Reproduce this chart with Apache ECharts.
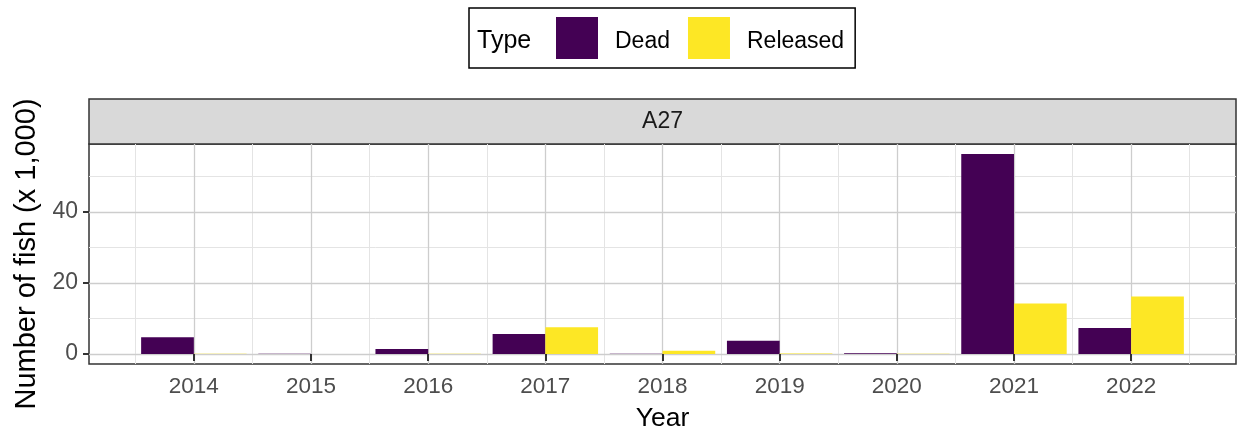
<!DOCTYPE html>
<html>
<head>
<meta charset="utf-8">
<script src="https://cdn.jsdelivr.net/npm/echarts@6/dist/echarts.min.js"></script>
<style>
  html, body { margin: 0; padding: 0; background: #ffffff; }
  #chart { width: 1248px; height: 437px; }
</style>
</head>
<body>
<div id="chart"></div>
<script>
// Fish counts (x 1,000) by year for site A27
const years = [2014, 2015, 2016, 2017, 2018, 2019, 2020, 2021, 2022];
const dead = [4.7, 0.1, 1.4, 5.6, 0.1, 3.7, 0.2, 56.3, 7.3];
const released = [0.1, 0, 0.1, 7.5, 0.9, 0.15, 0.1, 14.2, 16.2];
const yTickValues = [0, 20, 40];
const yMinorValues = [10, 30, 50];
const typeNames = ['Dead', 'Released'];
const panelName = 'A27';

const FONT = "'Liberation Sans', Arial, Helvetica, sans-serif";
const DEAD_COLOR = '#440154';
const RELEASED_COLOR = '#FDE725';

// continuous year scale: bar extent (width 0.9) plus 5% padding
const halfDodge = 0.45;
const xLo = years[0] - halfDodge, xHi = years[years.length - 1] + halfDodge;
const xPad = 0.05 * (xHi - xLo);
const yMaxData = Math.max(...dead, ...released);
const yPad = 0.05 * yMaxData;

const xMinorValues = years.map(y => y - 0.5).concat([years[years.length - 1] + 0.5]);

const stripTop = 99;
const gridLeft = 89, gridTop = 144, gridWidth = 1147, gridHeight = 223;

const majorStyle = { color: '#cdcdcd', width: 1.3, type: 'solid' };
const minorStyle = { color: '#e4e4e4', width: 1, type: 'solid' };

const gridLines = []
  .concat(xMinorValues.map(v => ({ xAxis: v, lineStyle: minorStyle })))
  .concat(yMinorValues.map(v => ({ yAxis: v, lineStyle: minorStyle })))
  .concat(years.map(v => ({ xAxis: v, lineStyle: majorStyle })))
  .concat(yTickValues.map(v => ({ yAxis: v, lineStyle: majorStyle })));

const chart = echarts.init(document.getElementById('chart'), null, { renderer: 'canvas' });

chart.setOption({
  animation: false,
  backgroundColor: '#ffffff',
  textStyle: { fontFamily: FONT },
  title: [
    {
      text: 'Type',
      left: 477, top: 26, padding: 0,
      textStyle: { fontFamily: FONT, fontSize: 25, fontWeight: 'normal', color: '#000000', lineHeight: 30 }
    },
    {
      text: panelName,
      left: gridLeft + gridWidth / 2, top: 108, padding: 0, textAlign: 'center',
      textStyle: { fontFamily: FONT, fontSize: 23, fontWeight: 'normal', color: '#1a1a1a', lineHeight: 28 }
    }
  ],
  legend: {
    data: typeNames,
    left: 469, top: 8,
    orient: 'horizontal',
    padding: [9, 11, 9, 87],
    itemWidth: 42, itemHeight: 42, itemGap: 18,
    icon: 'rect',
    borderColor: '#000000', borderWidth: 1.5,
    backgroundColor: '#ffffff',
    selectedMode: false,
    formatter: '{t|{name}}',
    textStyle: {
      fontFamily: FONT, fontSize: 23, color: '#000000',
      rich: { t: { fontFamily: FONT, fontSize: 23, color: '#000000', lineHeight: 23, padding: [8, 0, 0, 12] } }
    }
  },
  grid: [
    {
      left: gridLeft, top: gridTop, width: gridWidth, height: gridHeight,
      show: true, backgroundColor: '#ffffff', borderColor: '#333333', borderWidth: 1.5
    },
    {
      left: gridLeft, top: stripTop, width: gridWidth, height: gridTop - stripTop,
      show: true, backgroundColor: '#d9d9d9', borderColor: '#333333', borderWidth: 1.5
    }
  ],
  xAxis: [
    {
      type: 'value', gridIndex: 0,
      min: xLo - xPad, max: xHi + xPad,
      name: 'Year', nameLocation: 'middle', nameGap: 41,
      nameTextStyle: { fontFamily: FONT, fontSize: 26.5, color: '#000000' },
      axisLine: { show: false },
      axisTick: { show: true, length: 7, customValues: years, lineStyle: { color: '#333333', width: 2 } },
      axisLabel: { customValues: years, margin: 11, fontFamily: FONT, fontSize: 22.5, color: '#4d4d4d',
                   formatter: v => String(Math.round(v)) },
      splitLine: { show: false }
    },
    { type: 'value', gridIndex: 1, show: false, min: 0, max: 1 }
  ],
  yAxis: [
    {
      type: 'value', gridIndex: 0,
      min: -yPad, max: yMaxData + yPad,
      name: 'Number of fish (x 1,000)', nameLocation: 'middle', nameGap: 46, nameRotate: 90,
      nameTextStyle: { fontFamily: FONT, fontSize: 29, color: '#000000' },
      axisLine: { show: false },
      axisTick: { show: true, length: 6, customValues: yTickValues, lineStyle: { color: '#333333', width: 2 } },
      axisLabel: { customValues: yTickValues, margin: 11, fontFamily: FONT, fontSize: 23, color: '#4d4d4d',
                   formatter: v => String(Math.round(v)) },
      splitLine: { show: false }
    },
    { type: 'value', gridIndex: 1, show: false, min: 0, max: 1 }
  ],
  series: [
    {
      name: 'panel-grid',
      type: 'line', xAxisIndex: 0, yAxisIndex: 0,
      data: [], silent: true, z: 0,
      markLine: {
        silent: true, symbol: 'none', z: 0, animation: false,
        label: { show: false },
        emphasis: { disabled: true },
        data: gridLines
      }
    },
    {
      name: typeNames[0], type: 'bar', xAxisIndex: 0, yAxisIndex: 0, z: 3,
      barWidth: '45%', barGap: '0%',
      itemStyle: { color: DEAD_COLOR },
      data: years.map((y, i) => [y, dead[i]])
    },
    {
      name: typeNames[1], type: 'bar', xAxisIndex: 0, yAxisIndex: 0, z: 3,
      barWidth: '45%', barGap: '0%',
      itemStyle: { color: RELEASED_COLOR },
      data: years.map((y, i) => [y, released[i]])
    }
  ]
});
</script>
</body>
</html>
